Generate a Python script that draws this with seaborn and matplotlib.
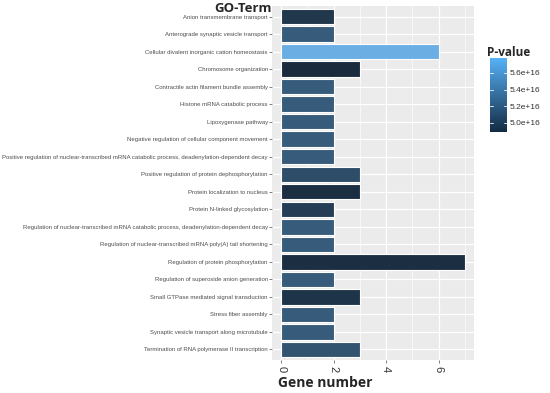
import numpy as np
import pandas as pd
import seaborn as sns
import matplotlib.pyplot as plt
from matplotlib.colors import LinearSegmentedColormap, Normalize
from matplotlib.cm import ScalarMappable

terms = [
    "Anion transmembrane transport",
    "Anterograde synaptic vesicle transport",
    "Cellular divalent inorganic cation homeostasis",
    "Chromosome organization",
    "Contractile actin filament bundle assembly",
    "Histone mRNA catabolic process",
    "Lipoxygenase pathway",
    "Negative regulation of cellular component movement",
    "Positive regulation of nuclear-transcribed mRNA catabolic process, deadenylation-dependent decay",
    "Positive regulation of protein dephosphorylation",
    "Protein localization to nucleus",
    "Protein N-linked glycosylation",
    "Regulation of nuclear-transcribed mRNA catabolic process, deadenylation-dependent decay",
    "Regulation of nuclear-transcribed mRNA poly(A) tail shortening",
    "Regulation of protein phosphorylation",
    "Regulation of superoxide anion generation",
    "Small GTPase mediated signal transduction",
    "Stress fiber assembly",
    "Synaptic vesicle transport along microtubule",
    "Termination of RNA polymerase II transcription",
]
gene_number = [2, 2, 6, 3, 2, 2, 2, 2, 2, 3, 3, 2, 2, 2, 7, 2, 3, 2, 2, 3]
p_value = [4.97e16, 5.22e16, 5.78e16, 4.89e16, 5.22e16, 5.22e16, 5.22e16, 5.22e16,
           5.22e16, 5.12e16, 4.92e16, 5.02e16, 5.22e16, 5.22e16, 4.92e16, 5.22e16,
           4.95e16, 5.22e16, 5.22e16, 5.17e16]
cbar_ticks = [5.0e16, 5.2e16, 5.4e16, 5.6e16]
cbar_labels = ["5.0e+16", "5.2e+16", "5.4e+16", "5.6e+16"]

df = pd.DataFrame({"term": terms, "genes": gene_number, "p": p_value})

cmap = LinearSegmentedColormap.from_list("gg", ["#132B43", "#56B1F7"])
norm = Normalize(vmin=min(p_value), vmax=max(p_value))
pal = {t: cmap(norm(p)) for t, p in zip(terms, p_value)}

sns.set_style("white")
plt.rcParams['font.family'] = ['Liberation Sans', 'DejaVu Sans']

fig = plt.figure(figsize=(5.5, 3.93), dpi=100)
ax = fig.add_axes([272 / 550, 1 - 360 / 393, 202 / 550, 354 / 393])
ax.set_facecolor("#EBEBEB")

sns.barplot(data=df, x="genes", y="term", hue="term", palette=pal, legend=False,
            orient="h", width=0.88, edgecolor="white", linewidth=0.8, ax=ax, zorder=3)

ax.set_xlim(-0.35, 7.35)
ax.set_ylim(len(terms) - 0.4, -0.6)
ax.set_xticks([0, 2, 4, 6])
ax.set_xticks([1, 3, 5, 7], minor=True)
ax.set_xticklabels(["0", "2", "4", "6"], rotation=-90, fontsize=8, color="#333333")
ax.grid(True, which="major", color="white", linewidth=0.9, zorder=0)
ax.grid(True, which="minor", axis="x", color="white", linewidth=0.45, zorder=0)
ax.set_axisbelow(True)
for s in ax.spines.values():
    s.set_visible(False)
ax.tick_params(axis="y", labelsize=4.3, labelcolor="#4D4D4D", length=2, width=0.5,
               color="#4D4D4D", pad=1, left=True)
ax.tick_params(axis="x", length=2, width=0.5, color="#4D4D4D", pad=2, bottom=True)
ax.tick_params(axis="x", which="minor", length=0)

ax.set_ylabel("")
ax.set_xlabel("")
fig.text(325 / 550, 1 - 383 / 393, "Gene number", ha="center", va="center", fontsize=10,
         fontweight="bold", family=["Open Sans", "DejaVu Sans"])
fig.text(243 / 550, 1 - 9 / 393, "GO-Term", ha="center", va="center", fontsize=9.5,
         fontweight="bold", family=["Open Sans", "DejaVu Sans"])

# colourbar legend
cax = fig.add_axes([490 / 550, 1 - 132 / 393, 17 / 550, 74 / 393])
cb = fig.colorbar(ScalarMappable(norm=norm, cmap=cmap), cax=cax, ticks=cbar_ticks)
cb.outline.set_visible(False)
cb.ax.set_yticklabels(cbar_labels)
cb.ax.tick_params(labelsize=6, labelcolor="#333333", length=0, pad=2)
for t in cbar_ticks:
    cb.ax.axhline(t, xmin=0, xmax=0.2, color="white", linewidth=0.6)
    cb.ax.axhline(t, xmin=0.8, xmax=1, color="white", linewidth=0.6)
fig.text(487 / 550, 1 - 53 / 393, "P-value", ha="left", va="center", fontsize=8.5,
         fontweight="bold", family=["Open Sans", "DejaVu Sans"])

fig.savefig("out.png", dpi=100)
